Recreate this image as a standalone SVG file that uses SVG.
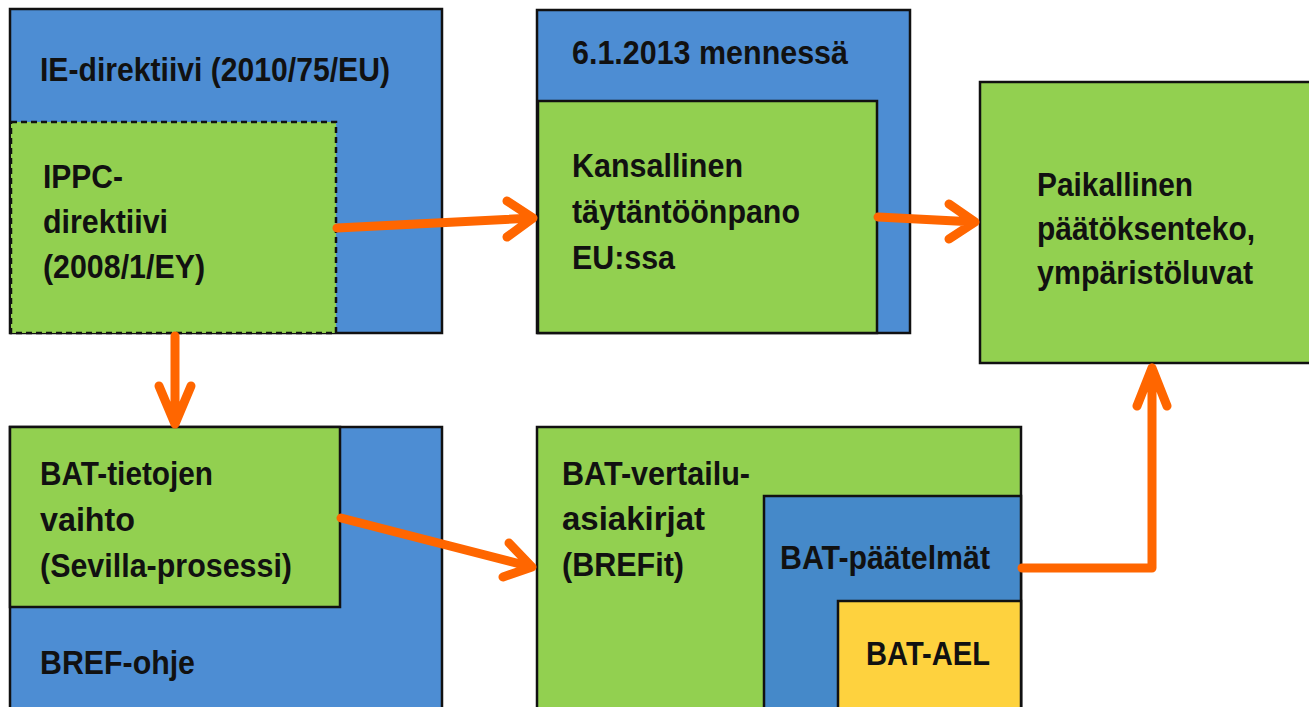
<svg xmlns="http://www.w3.org/2000/svg" width="1309" height="707" viewBox="0 0 1309 707">
<style>
.blue{fill:#4d8dd3;stroke:#111;stroke-width:2.5}
.green{fill:#92d050;stroke:#111;stroke-width:2.5}
.dash{fill:#92d050;stroke:#111;stroke-width:2.5;stroke-dasharray:6 4}
.yellow{fill:#fed23e;stroke:#111;stroke-width:2.5}
text{font-family:"Liberation Sans",Arial,sans-serif;font-weight:bold;font-size:33px;fill:#111}
.arr{fill:none;stroke:#ff6600;stroke-width:9;stroke-linecap:round;stroke-linejoin:round}
</style>
<rect width="1309" height="707" fill="#fff"/>
<g id="ie-direktiivi">
<rect class="blue" x="10" y="9" width="432" height="324"/>
<text x="40" y="81" textLength="350" lengthAdjust="spacingAndGlyphs">IE-direktiivi (2010/75/EU)</text>
</g>
<g id="ippc-direktiivi">
<rect class="dash" x="11" y="122" width="325" height="211"/>
<text x="43" y="188" textLength="80" lengthAdjust="spacingAndGlyphs">IPPC-</text>
<text x="43" y="233" textLength="125" lengthAdjust="spacingAndGlyphs">direktiivi</text>
<text x="43" y="278" textLength="162" lengthAdjust="spacingAndGlyphs">(2008/1/EY)</text>
</g>
<g id="mennessa">
<rect class="blue" x="537" y="10" width="373" height="323"/>
<text x="572" y="64" textLength="276" lengthAdjust="spacingAndGlyphs">6.1.2013 mennessä</text>
</g>
<g id="kansallinen">
<rect class="green" x="538" y="101" width="339" height="232"/>
<text x="572" y="177" textLength="171" lengthAdjust="spacingAndGlyphs">Kansallinen</text>
<text x="572" y="223" textLength="228" lengthAdjust="spacingAndGlyphs">täytäntöönpano</text>
<text x="572" y="269" textLength="103" lengthAdjust="spacingAndGlyphs">EU:ssa</text>
</g>
<g id="paikallinen">
<rect class="green" x="980" y="82" width="335" height="281"/>
<text x="1037" y="196" textLength="156" lengthAdjust="spacingAndGlyphs">Paikallinen</text>
<text x="1037" y="240" textLength="218" lengthAdjust="spacingAndGlyphs">päätöksenteko,</text>
<text x="1037" y="284" textLength="216" lengthAdjust="spacingAndGlyphs">ympäristöluvat</text>
</g>
<g id="bref-ohje">
<rect class="blue" x="10" y="427" width="432" height="290"/>
<text x="40" y="674" textLength="155" lengthAdjust="spacingAndGlyphs">BREF-ohje</text>
</g>
<g id="bat-tietojen-vaihto">
<rect class="green" x="10" y="427" width="330" height="180"/>
<text x="40" y="485" textLength="173" lengthAdjust="spacingAndGlyphs">BAT-tietojen</text>
<text x="40" y="531" textLength="95" lengthAdjust="spacingAndGlyphs">vaihto</text>
<text x="40" y="577" textLength="252" lengthAdjust="spacingAndGlyphs">(Sevilla-prosessi)</text>
</g>
<g id="bat-vertailu">
<rect class="green" x="537" y="427" width="484" height="290"/>
<text x="562" y="485" textLength="188" lengthAdjust="spacingAndGlyphs">BAT-vertailu-</text>
<text x="562" y="530" textLength="143" lengthAdjust="spacingAndGlyphs">asiakirjat</text>
<text x="562" y="576" textLength="122" lengthAdjust="spacingAndGlyphs">(BREFit)</text>
</g>
<g id="bat-paatelmat">
<rect class="blue" x="764" y="496" width="257" height="221" style="fill:#4589c9"/>
<text x="780" y="569" textLength="210" lengthAdjust="spacingAndGlyphs">BAT-päätelmät</text>
</g>
<g id="bat-ael">
<rect class="yellow" x="838" y="601" width="183" height="116"/>
<text x="866" y="665" textLength="124" lengthAdjust="spacingAndGlyphs">BAT-AEL</text>
</g>
<g id="connectors">
<path class="arr" d="M337 228 L533 218 M507 201 L533 218 L507 237"/>
<path class="arr" d="M878 217 L975 222 M949 204 L975 222 L949 239"/>
<path class="arr" d="M175 336 L175 424 M159 386 L175 424 L191 386"/>
<path class="arr" d="M341 518 L532 567 M509 543 L532 567 L503 577"/>
<path class="arr" d="M1022 568 L1152 568 L1152 368 M1137 406 L1152 368 L1167 406"/>
</g>
</svg>
